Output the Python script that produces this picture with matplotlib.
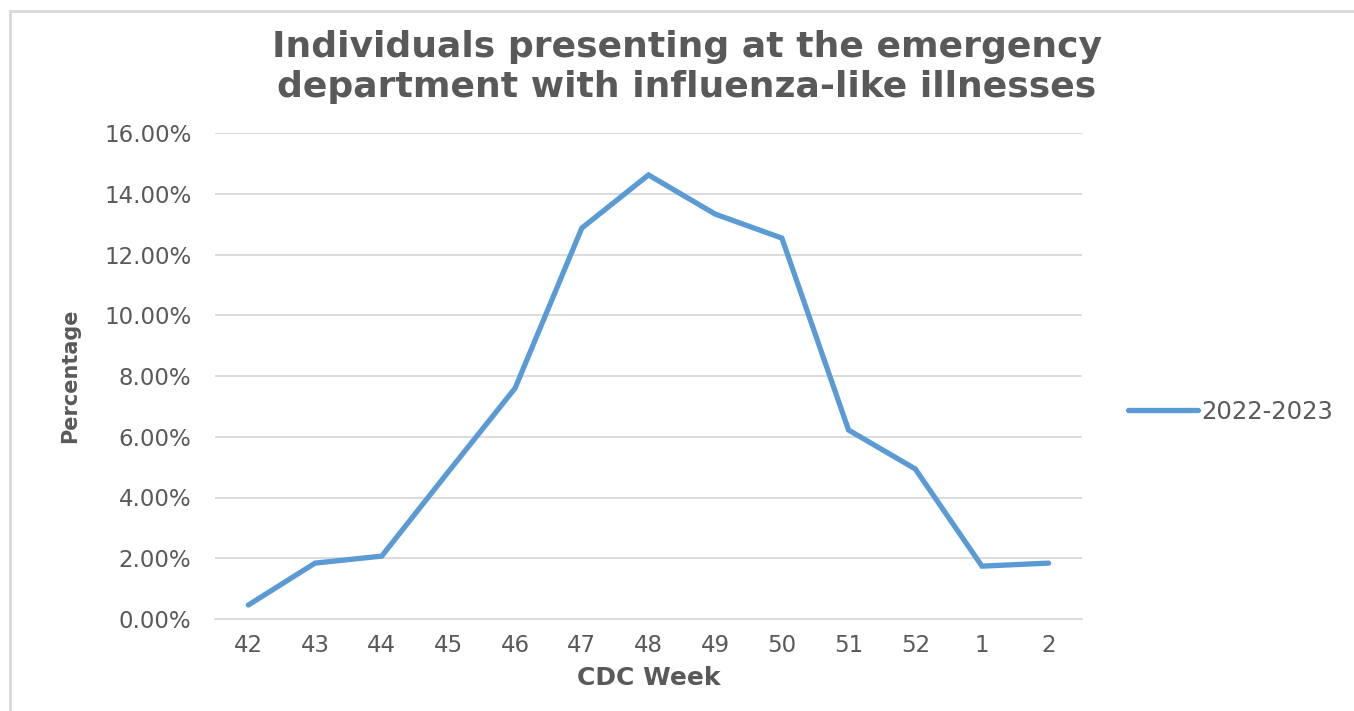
import matplotlib.pyplot as plt
from matplotlib.lines import Line2D
from matplotlib.ticker import PercentFormatter

# data
weeks = ['42', '43', '44', '45', '46', '47', '48', '49', '50', '51', '52', '1', '2']
pct_2022_23 = [0.46, 1.84, 2.07, 4.85, 7.60, 12.87, 14.62, 13.33, 12.54, 6.22, 4.94, 1.74, 1.84]
series_name = '2022-2023'
yticks = [0, 2, 4, 6, 8, 10, 12, 14, 16]

txt = '#595959'
grid_c = '#D9D9D9'
line_c = '#5B9BD5'

plt.rcParams['font.family'] = ['DejaVu Sans']

W, H = 1354, 711
fig = plt.figure(figsize=(W/100, H/100), dpi=100)

# outer chart border (light gray, runs off the right/bottom edges)
fig.add_artist(Line2D([10/W, 1], [1-11/H, 1-11/H], color=grid_c, lw=2, transform=fig.transFigure))
fig.add_artist(Line2D([10/W, 10/W], [0, 1-11/H], color=grid_c, lw=2, transform=fig.transFigure))

ax = fig.add_axes([215/W, 1-619/H, (1082-215)/W, (619-133)/H])
x = list(range(len(weeks)))
ax.plot(x, pct_2022_23, color=line_c, lw=3.8, solid_joinstyle='miter', solid_capstyle='round',
        label=series_name)

ax.set_xlim(-0.5, len(weeks)-0.5)
ax.set_ylim(0, 16)
ax.set_yticks(yticks)
ax.yaxis.set_major_formatter(PercentFormatter(decimals=2))
ax.set_xticks(x)
ax.set_xticklabels(weeks)
ax.grid(axis='y', color=grid_c, lw=1.3)
ax.set_axisbelow(True)
for s in ['top', 'right', 'left']:
    ax.spines[s].set_visible(False)
ax.spines['bottom'].set_color(grid_c)
ax.spines['bottom'].set_linewidth(1.3)
ax.tick_params(length=0, labelsize=16.5, colors=txt)
ax.tick_params(axis='y', pad=17)
ax.tick_params(axis='x', pad=11)

ax.set_xlabel('CDC Week', fontsize=18, fontweight='bold', color=txt, labelpad=6)
ax.set_ylabel('Percentage', fontsize=15, fontweight='bold', color=txt, labelpad=17)

fig.text(0.5 * (265 + 1108) / W, 1-67/H,
         'Individuals presenting at the emergency\ndepartment with influenza-like illnesses',
         ha='center', va='center', fontsize=26, fontweight='bold', color=txt, linespacing=1.2)

ax.legend(loc='center left', bbox_to_anchor=(1128/W, 1-412/H), bbox_transform=fig.transFigure,
          frameon=False, fontsize=17.5, labelcolor=txt, handlelength=2.9, handletextpad=0.1,
          borderpad=0, borderaxespad=0)

fig.savefig('out.png', dpi=100)
